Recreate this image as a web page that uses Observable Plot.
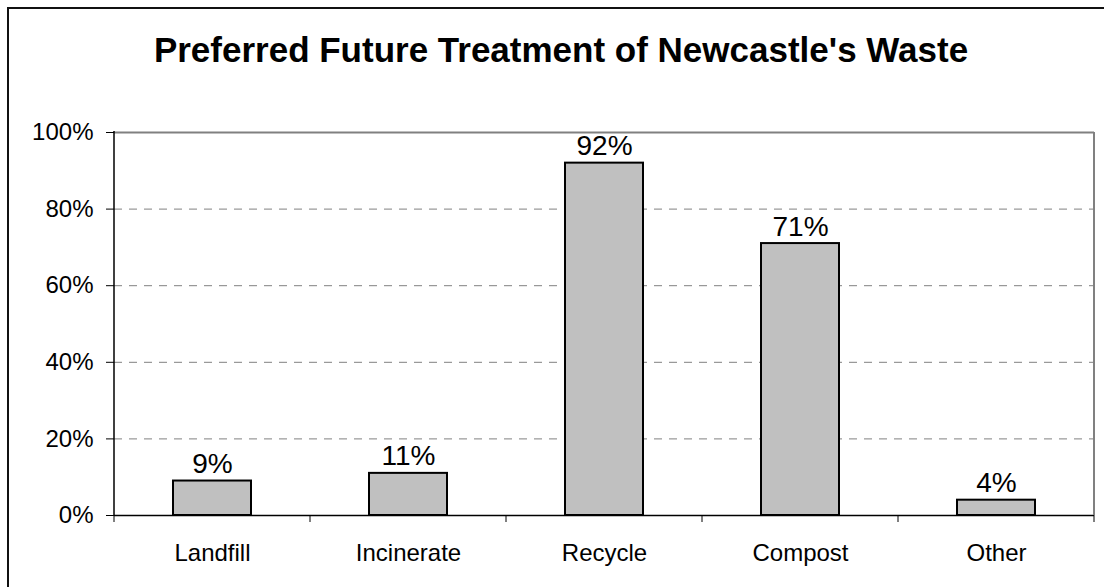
<!DOCTYPE html>
<html>
<head>
<meta charset="utf-8">
<script src="https://cdn.jsdelivr.net/npm/d3@7"></script>
<script src="https://cdn.jsdelivr.net/npm/@observablehq/plot@0.6"></script>
<style>
  html, body { margin: 0; padding: 0; background: #fff; overflow: hidden; }
  body { width: 1104px; height: 587px; position: relative; font-family: "Liberation Sans", Arial, sans-serif; }
  #frame { position: absolute; left: 7px; top: 7px; width: 1200px; height: 700px;
           border-top: 2px solid #111; border-left: 2px solid #111; }
  #title { position: absolute; left: 8px; width: 1106px; top: 32px; text-align: center;
           font-size: 35px; line-height: 35px; font-weight: bold; color: #000; white-space: nowrap; }
  #chart { position: absolute; left: 0; top: 100px; }
</style>
</head>
<body>
<div id="frame"></div>
<div id="title">Preferred Future Treatment of Newcastle's Waste</div>
<div id="chart"></div>
<script>
const categories = ["Landfill", "Incinerate", "Recycle", "Compost", "Other"];
const values = [0.09, 0.11, 0.92, 0.71, 0.04];
const yTicks = [0, 0.2, 0.4, 0.6, 0.8, 1.0];
const gridValues = [0.2, 0.4, 0.6, 0.8];

const data = categories.map((c, i) => ({category: c, value: values[i]}));
const pct = d3.format(".0%");

const plot = Plot.plot({
  width: 1104,
  height: 487,
  marginTop: 32,
  marginBottom: 72,
  marginLeft: 114,
  marginRight: 10,
  style: {fontFamily: "Liberation Sans, Arial, sans-serif", fontSize: "24px", color: "#000", background: "transparent"},
  x: {domain: categories, paddingInner: 0.6, paddingOuter: 0.3, tickSize: 0, tickPadding: 28, label: null},
  y: {domain: [0, 1], ticks: yTicks, tickFormat: pct, tickSize: 8, tickPadding: 13, label: null},
  marks: [
    Plot.ruleY(gridValues, {stroke: "#808080", strokeWidth: 1, strokeDasharray: "8,7"}),
    Plot.ruleY([1], {stroke: "#808080", strokeWidth: 2}),
    Plot.barY(data, {x: "category", y: "value", fill: "#C0C0C0", stroke: "#000", strokeWidth: 2}),
    Plot.text(data, {x: "category", y: "value", text: d => pct(d.value), fontSize: 28, dy: -17, fill: "#000"}),
    Plot.ruleY([0], {stroke: "#000", strokeWidth: 1.5})
  ]
});

// frame lines and category boundary ticks derived from the scales
const xs = plot.scale("x");
const ys = plot.scale("y");
const r0 = Math.min(...xs.range), r1 = Math.max(...xs.range);
const step = xs.step != null ? xs.step : (r1 - r0) / categories.length;
const yTop = ys.apply(1), yBot = ys.apply(0);
const g = d3.select(plot).append("g");
g.append("line").attr("x1", r1).attr("x2", r1).attr("y1", yTop).attr("y2", yBot)
  .attr("stroke", "#808080").attr("stroke-width", 2);
g.append("line").attr("x1", r0).attr("x2", r0).attr("y1", yTop - 1).attr("y2", yBot)
  .attr("stroke", "#000").attr("stroke-width", 1.5);
d3.range(categories.length + 1).forEach(i => {
  const bx = r0 + i * step;
  g.append("line").attr("x1", bx).attr("x2", bx).attr("y1", yBot).attr("y2", yBot + 7)
    .attr("stroke", "#000").attr("stroke-width", 1);
});

document.getElementById("chart").appendChild(plot);
</script>
</body>
</html>
